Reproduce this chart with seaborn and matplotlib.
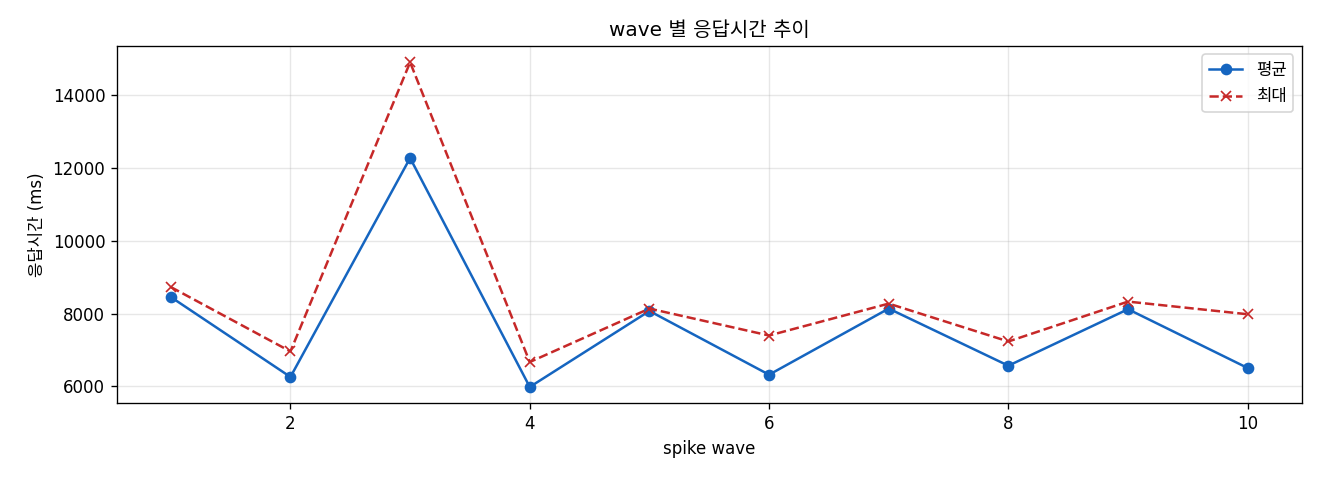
import matplotlib
matplotlib.use("Agg")
import matplotlib.pyplot as plt
import seaborn as sns
import pandas as pd

waves = [1, 2, 3, 4, 5, 6, 7, 8, 9, 10]
mean_ms = [8455, 6258, 12274, 5983, 8071, 6320, 8137, 6567, 8120, 6504]
max_ms = [8729, 6959, 14904, 6668, 8137, 7397, 8274, 7233, 8329, 7981]

plt.rcParams['font.family'] = ['DejaVu Sans', 'Noto Sans CJK KR']
plt.rcParams['axes.unicode_minus'] = False

df = pd.DataFrame({"wave": waves, "mean": mean_ms, "max": max_ms})

fig, ax = plt.subplots(figsize=(11, 4), dpi=120)
sns.lineplot(data=df, x="wave", y="mean", ax=ax, color="#1565C0", marker="o",
             markersize=6, markeredgecolor="#1565C0", markeredgewidth=1.0,
             linewidth=1.5, label="평균")
sns.lineplot(data=df, x="wave", y="max", ax=ax, color="#C62828", marker="x",
             markersize=6, markeredgecolor="#C62828", markeredgewidth=1.0,
             linestyle="--", linewidth=1.5, label="최대")

ax.set_title("wave 별 응답시간 추이", fontsize=12)
ax.set_xlabel("spike wave", fontsize=10)
ax.set_ylabel("응답시간 (ms)", fontsize=10)
ax.grid(True, color="#b0b0b0", alpha=0.3)
ax.tick_params(labelsize=10)
ax.legend(loc="upper right", fontsize=10)
fig.subplots_adjust(left=0.0886, right=0.986, top=0.904, bottom=0.16)
fig.savefig("out.png", dpi=120)
